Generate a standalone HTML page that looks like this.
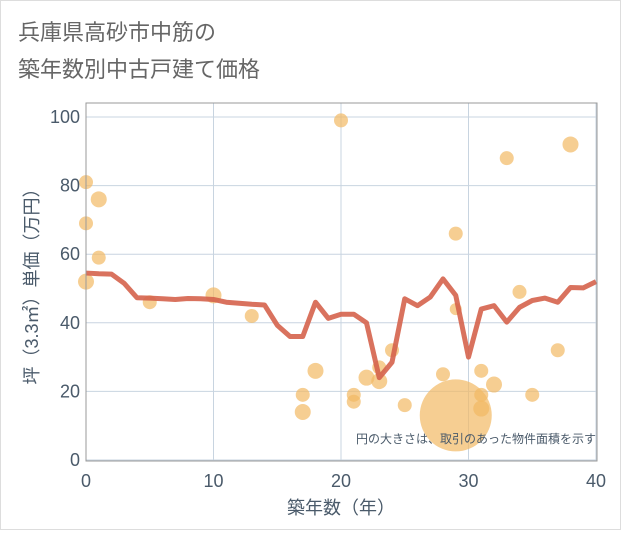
<!DOCTYPE html>
<html><head><meta charset="utf-8"><style>
body{margin:0;background:#fff;font-family:"Liberation Sans","Noto Sans CJK JP",sans-serif}
</style></head><body>
<svg id="c" width="621" height="530" xmlns="http://www.w3.org/2000/svg">
<rect x="0.5" y="0.5" width="620" height="529" fill="#fff" stroke="#ddd"/>
<text x="18" y="40" font-size="22" fill="#666">兵庫県高砂市中筋の</text>
<text x="18" y="77" font-size="22" fill="#666">築年数別中古戸建て価格</text>
<g id="grid"></g>
<g id="bub"></g>
<polyline id="line" fill="none" stroke="#d5634c" stroke-opacity="0.9" stroke-width="5" stroke-linejoin="round"/>
<rect x="86" y="103" width="511" height="358" fill="none" stroke="#999"/>
<g id="ticks"></g>
<text x="596" y="443" font-size="12" fill="#4a5a6a" text-anchor="end">円の大きさは、取引のあった物件面積を示す</text>
<text x="341" y="514" font-size="18" fill="#4a5a6a" text-anchor="middle">築年数（年）</text>
<text transform="translate(38,282) rotate(-90)" font-size="18" fill="#4a5a6a" text-anchor="middle">坪（3.3㎡）単価（万円）</text>
</svg>
<script>
const xTicks=[0,10,20,30,40];
const yTicks=[0,20,40,60,80,100];
const lineYears=[0,1,2,3,4,5,6,7,8,9,10,11,12,13,14,15,16,17,18,19,20,21,22,23,24,25,26,27,28,29,30,31,32,33,34,35,36,37,38,39,40];
const lineValues=[54.5,54.3,54.2,51.5,47.3,47.2,47,46.8,47.1,47,46.8,46,45.7,45.4,45.2,39.3,36,36,46,41.3,42.5,42.5,40,24,28.5,47,45,47.5,52.8,48,30,44,45,40.2,44.5,46.5,47.2,46,50.3,50.2,52];
const bubbleYears=[0,1,0,1,0,5,10,13,17,17,18,20,21,21,22,23,23,24,25,28,29,29,29,31,31,31,32,33,34,35,37,38];
const bubbleValues=[81,76,69,59,52,46,48,42,19,14,26,99,19,17,24,27,23,32,16,25,13,66,44,26,19,15,22,88,49,19,32,92];
const bubbleSizes=[7,8,7,7,8,7,8,7,7,8,8,7,7,7,8,7,8,7,7,7,36,7,6,7,7,8,8,7,7,7,7,8];
const sx=v=>86+v*12.75, sy=v=>460-v*3.43;
const NS="http://www.w3.org/2000/svg";
const g=document.getElementById('grid'),t=document.getElementById('ticks'),b=document.getElementById('bub');
xTicks.forEach(v=>{
 const l=document.createElementNS(NS,'line');
 
 
 l.setAttribute('x1',sx(v));l.setAttribute('x2',sx(v));l.setAttribute('y1',103);l.setAttribute('y2',461);l.setAttribute('stroke','#c8d4e0');
 g.appendChild(l);
 const s=document.createElementNS(NS,'text');
 
 
 s.setAttribute('x',sx(v));s.setAttribute('y',487);s.setAttribute('font-size','18');s.setAttribute('fill','#4a5a6a');s.setAttribute('text-anchor','middle');
 s.textContent=v;t.appendChild(s);
});
yTicks.forEach(v=>{
 const l=document.createElementNS(NS,'line');
 
 
 l.setAttribute('x1',86);l.setAttribute('x2',597);l.setAttribute('y1',sy(v));l.setAttribute('y2',sy(v));l.setAttribute('stroke','#c8d4e0');
 g.appendChild(l);
 const s=document.createElementNS(NS,'text');
 
 
 s.setAttribute('x',80);s.setAttribute('y',sy(v)+6);s.setAttribute('font-size','18');s.setAttribute('fill','#4a5a6a');s.setAttribute('text-anchor','end');
 s.textContent=v;t.appendChild(s);
});
bubbleYears.forEach((x,i)=>{
 const c=document.createElementNS(NS,'circle');
 
 
 c.setAttribute('cx',sx(x));c.setAttribute('cy',sy(bubbleValues[i]));c.setAttribute('r',bubbleSizes[i]);
 c.setAttribute('fill','#f2b964');c.setAttribute('fill-opacity','0.7');
 b.appendChild(c);
});
document.getElementById('line').setAttribute('points',lineYears.map((x,i)=>sx(x)+','+sy(lineValues[i])).join(' '));
</script>
</body></html>
